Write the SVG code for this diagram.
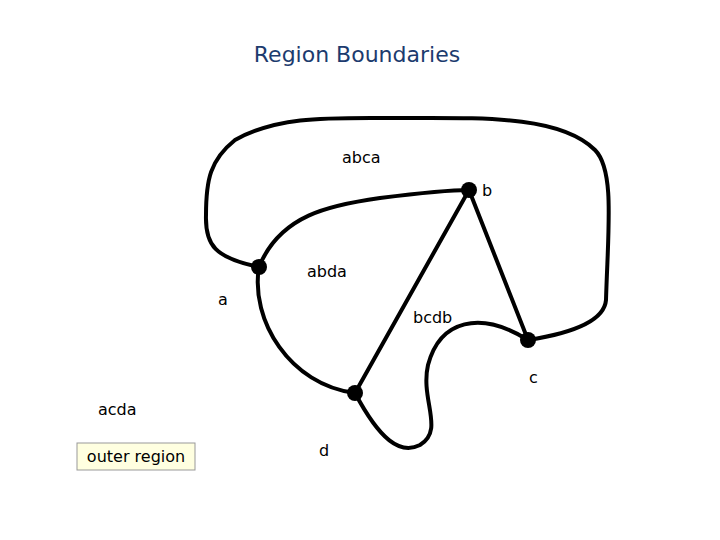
<svg xmlns="http://www.w3.org/2000/svg" width="720" height="540" viewBox="0 0 720 540">
<style>
.e{fill:none;stroke:#000;stroke-width:4;stroke-linecap:round}
.n{fill:#000}
.t{font-family:"DejaVu Sans",sans-serif;font-size:16px;fill:#000}
</style>
<rect width="720" height="540" fill="#fff"/>
<text x="357" y="62" text-anchor="middle" style="font-family:'DejaVu Sans',sans-serif;font-size:22px;fill:#1c3b6e">Region Boundaries</text>
<g id="connectors">
<path class="e" d="M259,267 C215,258 205,245 206,215 C206,180 210,160 235,140 C280,115 330,118 400,118 C480,118 560,115 595,150 C615,170 608,230 606,300 C604,325 560,335 528,340"/>
<path class="e" d="M259,267 C280,215 330,205 380,198 C420,193 450,190 469,190"/>
<line class="e" x1="469" y1="190" x2="355" y2="393"/>
<line class="e" x1="469" y1="190" x2="528" y2="340"/>
<path class="e" d="M259,267 C250,320 290,385 355,393"/>
<path class="e" d="M528,340 C480,310 440,320 428,365 C420,400 445,430 420,445 C400,455 380,440 355,393"/>
</g>
<g id="a"><circle class="n" cx="259" cy="267" r="8"/><text class="t" x="218" y="305">a</text></g>
<g id="b"><circle class="n" cx="469" cy="190" r="8"/><text class="t" x="482" y="196">b</text></g>
<g id="c"><circle class="n" cx="528" cy="340" r="8"/><text class="t" x="529" y="383">c</text></g>
<g id="d"><circle class="n" cx="355" cy="393" r="8"/><text class="t" x="319" y="456">d</text></g>
<g id="labels">
<text class="t" x="342" y="163">abca</text>
<text class="t" x="307" y="277">abda</text>
<text class="t" x="413" y="323">bcdb</text>
<text class="t" x="98" y="415">acda</text>
</g>
<g id="outer"><rect x="77" y="443" width="118" height="27" fill="#ffffe0" stroke="#999"/><text class="t" x="136" y="462" text-anchor="middle">outer region</text></g>
</svg>
